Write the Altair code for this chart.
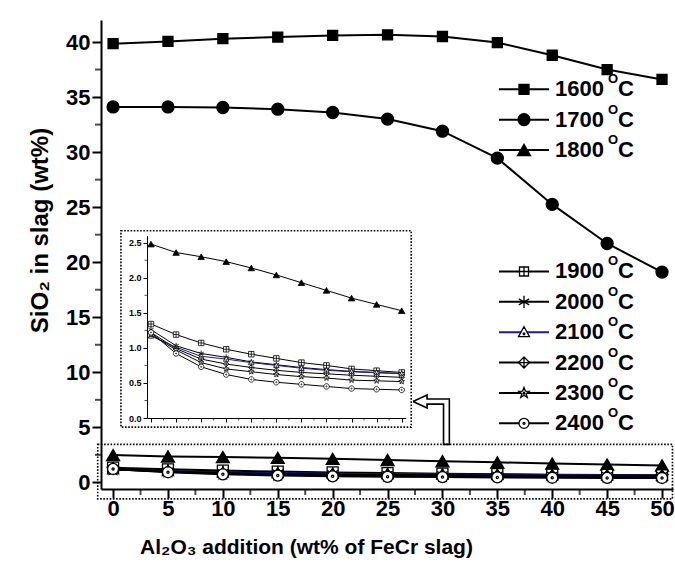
import math
import altair as alt
import pandas as pd

# ---------------------------------------------------------------- data
additions = [0, 5, 10, 15, 20, 25, 30, 35, 40, 45, 50]
temperatures = ["1600", "1700", "1800", "1900", "2000", "2100", "2200", "2300", "2400"]

sio2_1600 = [39.85, 40.05, 40.3, 40.45, 40.6, 40.65, 40.5, 39.95, 38.8, 37.5, 36.6]
sio2_1700 = [34.1, 34.1, 34.05, 33.9, 33.6, 33.0, 31.9, 29.45, 25.25, 21.7, 19.1]
sio2_1800 = [2.48, 2.36, 2.30, 2.23, 2.14, 2.04, 1.93, 1.82, 1.71, 1.62, 1.53]
sio2_1900 = [1.34, 1.19, 1.07, 0.98, 0.91, 0.85, 0.79, 0.75, 0.70, 0.675, 0.65]
sio2_2000 = [1.26, 1.03, 0.92, 0.865, 0.80, 0.76, 0.72, 0.69, 0.665, 0.65, 0.635]
sio2_2100 = [1.17, 1.01, 0.88, 0.84, 0.79, 0.75, 0.71, 0.68, 0.66, 0.645, 0.63]
sio2_2200 = [1.22, 0.99, 0.84, 0.77, 0.72, 0.68, 0.65, 0.63, 0.61, 0.595, 0.58]
sio2_2300 = [1.19, 0.97, 0.79, 0.70, 0.66, 0.62, 0.59, 0.57, 0.54, 0.53, 0.52]
sio2_2400 = [1.22, 0.92, 0.73, 0.62, 0.55, 0.51, 0.48, 0.45, 0.42, 0.41, 0.40]

main_x_ticks = [0, 5, 10, 15, 20, 25, 30, 35, 40, 45, 50]
main_y_ticks = [0, 5, 10, 15, 20, 25, 30, 35, 40]
inset_y_ticks = [0.0, 0.5, 1.0, 1.5, 2.0, 2.5]

# legend rows (a gap separates the two groups)
legend_rows = [0, 1, 2, 6, 7, 8, 9, 10, 11]

# zoom frame around the low-SiO2 curves and the arrow to the inset (data units)
zoom_box_x = [-1.4, 50.95]
zoom_box_y = [-1.5, 3.45]
arrow_x = [27.32, 28.60, 28.60, 30.63, 30.63, 30.10, 30.10, 28.60, 28.60, 27.32]
arrow_y = [7.34, 7.93, 7.58, 7.58, 3.45, 3.45, 7.11, 7.11, 6.75, 7.34]
# frame of the inset (inset units)
inset_box_x = [-6.0, 51.9]
inset_box_y = [-0.13, 2.67]

series = dict(zip(temperatures, [sio2_1600, sio2_1700, sio2_1800, sio2_1900, sio2_2000,
                                 sio2_2100, sio2_2200, sio2_2300, sio2_2400]))
inset_temps = temperatures[2:]

# ---------------------------------------------------------------- marker styles
def ring(r, cy=0.0):
    return f"M{r},{cy}A{r},{r} 0 1,1 {-r},{cy}A{r},{r} 0 1,1 {r},{cy}Z"

def star_path():
    pts = []
    for i in range(10):
        r = 1.0 if i % 2 == 0 else 0.42
        a = math.radians(-90 + 36 * i)
        pts.append(f"{r * math.cos(a):.3f},{r * math.sin(a):.3f}")
    return "M" + "L".join(pts) + "Z"

shapes = [
    "square",
    "circle",
    "triangle-up",
    "M-1,-1H1V1H-1Z M0,-1V1 M-1,0H1",
    "M0,-1.1V1.1 M-0.95,-0.55L0.95,0.55 M-0.95,0.55L0.95,-0.55",
    "M0,-1L1,0.8L-1,0.8Z " + ring(0.16, 0.3),
    "M0,-1L1,0L0,1L-1,0Z M0,-1V1 M-1,0H1",
    star_path() + " " + ring(0.14, 0.05),
    ring(1) + " " + ring(0.2),
]
fills = ["black", "black", "black"] + ["white"] * 6
line_colors = ["black"] * 5 + ["#1a1a9a"] + ["black"] * 3
main_sizes = dict(zip(temperatures, [100, 144, 169, 121, 121, 121, 121, 144, 121]))
legend_sizes = dict(zip(temperatures, [100, 144, 169, 81, 121, 121, 121, 121, 100]))
inset_sizes = dict(zip(temperatures, [30, 30, 42, 30, 30, 30, 30, 36, 30]))

shape_scale = alt.Scale(domain=temperatures, range=shapes)
fill_scale = alt.Scale(domain=temperatures, range=fills)
color_scale = alt.Scale(domain=temperatures, range=line_colors)

rows = []
for t in temperatures:
    for a, v in zip(additions, series[t]):
        rows.append({"temp": t, "add": a, "sio2": v,
                     "msize": main_sizes[t], "isize": inset_sizes[t]})
df = pd.DataFrame(rows)
df_inset = df[df["temp"].isin(inset_temps)]

FONT = "Liberation Sans"
W, H = 572, 469

# ---------------------------------------------------------------- main panel
xs = alt.Scale(domain=[-1.1, 51], nice=False, zero=False)
ys = alt.Scale(domain=[-0.6, 42], nice=False, zero=False)
x_axis = alt.Axis(values=main_x_ticks, title="Al₂O₃ addition (wt% of FeCr slag)",
                  labelFontSize=22, labelFont=FONT, labelFontWeight="bold", labelPadding=0,
                  tickSize=9, tickWidth=2, domainWidth=2, grid=False,
                  titleFont=FONT, titleFontSize=21, titleFontWeight="bold",
                  titleX=205, titleY=58, titleBaseline="middle")
y_axis = alt.Axis(values=main_y_ticks, title="SiO₂ in slag (wt%)",
                  labelFontSize=22, labelFont=FONT, labelFontWeight="bold", labelPadding=2,
                  tickSize=9, tickWidth=2, domainWidth=2, grid=False,
                  titleFont=FONT, titleFontSize=24, titleFontWeight="bold",
                  titleX=-61, titleY=210, titleBaseline="middle")

X = alt.X("add:Q", scale=xs, axis=x_axis)
Y = alt.Y("sio2:Q", scale=ys, axis=y_axis)

main_lines = alt.Chart(df).mark_line(strokeWidth=2).encode(
    x=X, y=Y, color=alt.Color("temp:N", scale=color_scale, legend=None))
main_points = alt.Chart(df).mark_point(filled=True, opacity=1, stroke="black", strokeWidth=1.3).encode(
    x=X, y=Y,
    shape=alt.Shape("temp:N", scale=shape_scale, legend=None),
    fill=alt.Fill("temp:N", scale=fill_scale, legend=None),
    size=alt.Size("msize:Q", scale=None))

minor_y = pd.DataFrame({"v": [t + 2.5 for t in main_y_ticks[:-1]]})
minor_x = pd.DataFrame({"v": [t + 2.5 for t in main_x_ticks[:-1]]})
main_minor_y = alt.Chart(minor_y).mark_tick(orient="horizontal", size=6, thickness=2, color="black", xOffset=-3).encode(
    y=alt.Y("v:Q", scale=ys, axis=y_axis), x=alt.datum(-1.1, scale=xs, axis=x_axis))
main_minor_x = alt.Chart(minor_x).mark_tick(orient="vertical", size=6, thickness=2, color="black", yOffset=3).encode(
    x=alt.X("v:Q", scale=xs, axis=x_axis), y=alt.datum(-0.6, scale=ys, axis=y_axis))

zoom_box = alt.Chart(pd.DataFrame({"x": [zoom_box_x[0]], "x2": [zoom_box_x[1]],
                                   "y": [zoom_box_y[0]], "y2": [zoom_box_y[1]]})).mark_rect(
    fill=None, stroke="black", strokeWidth=1.6, strokeDash=[1.6, 1.6]).encode(
    x=alt.X("x:Q", scale=xs, axis=x_axis), x2="x2:Q",
    y=alt.Y("y:Q", scale=ys, axis=y_axis), y2="y2:Q")

arrow = alt.Chart(pd.DataFrame({"x": arrow_x, "y": arrow_y, "i": list(range(len(arrow_x)))})).mark_line(
    color="black", strokeWidth=1.6, strokeJoin="miter").encode(
    x=alt.X("x:Q", scale=xs, axis=x_axis), y=alt.Y("y:Q", scale=ys, axis=y_axis), order="i:Q")

main = alt.layer(zoom_box, arrow, main_lines, main_points, main_minor_y, main_minor_x)

# ---------------------------------------------------------------- inset panel
ixs = alt.Scale(domain=[-0.8, 50.8], range=[46, 304.7], nice=False, zero=False)
iys = alt.Scale(domain=[0, 2.6], range=[398, 215.7], nice=False, zero=False)
ix_axis = alt.Axis(orient="bottom", offset=-(H - 398), values=main_x_ticks, labels=False,
                   tickSize=4, tickWidth=1, domainWidth=1, grid=False, title=None, zindex=2)
iy_axis = alt.Axis(orient="left", offset=-46, values=inset_y_ticks, format=".1f",
                   labelFontSize=9, labelFont=FONT, labelFontWeight="bold", labelPadding=2,
                   tickSize=4, tickWidth=1, domainWidth=1, grid=False, title=None, zindex=2)
IX = alt.X("add:Q", scale=ixs, axis=ix_axis)
IY = alt.Y("sio2:Q", scale=iys, axis=iy_axis)

inset_frame = alt.Chart(pd.DataFrame({"x": [inset_box_x[0]], "x2": [inset_box_x[1]],
                                      "y": [inset_box_y[0]], "y2": [inset_box_y[1]]})).mark_rect(
    fill="white", stroke="black", strokeWidth=1.6, strokeDash=[1.6, 1.6]).encode(
    x=alt.X("x:Q", scale=ixs, axis=ix_axis), x2="x2:Q",
    y=alt.Y("y:Q", scale=iys, axis=iy_axis), y2="y2:Q")
inset_lines = alt.Chart(df_inset).mark_line(strokeWidth=1).encode(
    x=IX, y=IY, color=alt.Color("temp:N", scale=color_scale, legend=None))
inset_points = alt.Chart(df_inset).mark_point(filled=True, opacity=1, stroke="black", strokeWidth=0.8).encode(
    x=IX, y=IY,
    shape=alt.Shape("temp:N", scale=shape_scale, legend=None),
    fill=alt.Fill("temp:N", scale=fill_scale, legend=None),
    size=alt.Size("isize:Q", scale=None))
iminor_y = pd.DataFrame({"v": [t + 0.25 for t in inset_y_ticks[:-1]]})
iminor_x = pd.DataFrame({"v": [t + 2.5 for t in main_x_ticks[:-1]]})
inset_minor_y = alt.Chart(iminor_y).mark_tick(orient="horizontal", size=2.5, thickness=1, color="black", xOffset=-1.25).encode(
    y=alt.Y("v:Q", scale=iys, axis=iy_axis), x=alt.datum(-0.8, scale=ixs, axis=ix_axis))
inset_minor_x = alt.Chart(iminor_x).mark_tick(orient="vertical", size=2.5, thickness=1, color="black", yOffset=1.25).encode(
    x=alt.X("v:Q", scale=ixs, axis=ix_axis), y=alt.datum(0, scale=iys, axis=iy_axis))

inset = alt.layer(inset_frame, inset_lines, inset_points, inset_minor_y, inset_minor_x)

# ---------------------------------------------------------------- legend
leg = pd.DataFrame({"temp": temperatures, "row": legend_rows,
                    "lsize": [legend_sizes[t] for t in temperatures]})
LY = alt.Y("row:Q", scale=alt.Scale(domain=[0, 11], range=[69.3, 403.3], nice=False, zero=False), axis=None)
leg_lines = alt.Chart(leg).mark_rule(strokeWidth=2).encode(
    x=alt.value(398), x2=alt.value(448), y=LY,
    color=alt.Color("temp:N", scale=color_scale, legend=None))
leg_points = alt.Chart(leg).mark_point(filled=True, opacity=1, stroke="black", strokeWidth=1.3).encode(
    x=alt.value(423), y=LY,
    shape=alt.Shape("temp:N", scale=shape_scale, legend=None),
    fill=alt.Fill("temp:N", scale=fill_scale, legend=None),
    size=alt.Size("lsize:Q", scale=None))
text_style = dict(align="left", baseline="middle", font=FONT, fontWeight="bold", color="black")
leg_num = alt.Chart(leg).mark_text(fontSize=22, **text_style).encode(
    x=alt.value(454), y=LY, text="temp:N")
leg_o = alt.Chart(leg).mark_text(fontSize=13, dy=-10, **text_style).encode(
    x=alt.value(507), y=LY, text=alt.value("O"))
leg_c = alt.Chart(leg).mark_text(fontSize=22, **text_style).encode(
    x=alt.value(517), y=LY, text=alt.value("C"))

legend = alt.layer(leg_lines, leg_points, leg_num, leg_o, leg_c)

chart = alt.layer(main, inset, legend).resolve_scale(
    x="independent", y="independent"
).properties(
    width=W, height=H,
    autosize=alt.AutoSizeParams(type="none"),
    padding={"left": 101, "top": 20, "right": 2, "bottom": 565 - 20 - H},
    background="white",
).configure_view(stroke=None).configure_axis(domainColor="black", tickColor="black", labelColor="black", titleColor="black")

chart.save("out.html", embed_options={"renderer": "svg", "actions": False})
